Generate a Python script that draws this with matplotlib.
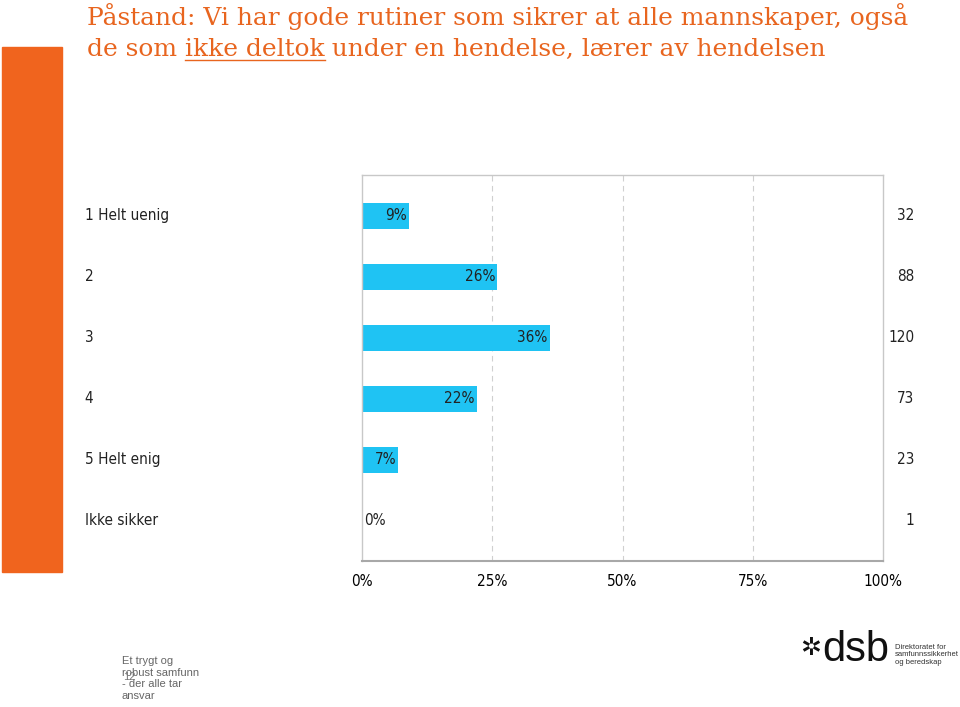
import numpy as np
import matplotlib
matplotlib.use("Agg")
import matplotlib.pyplot as plt
from matplotlib.patches import Rectangle

# ---------- data ----------
categories = ["1 Helt uenig", "2", "3", "4", "5 Helt enig", "Ikke sikker"]
percents = [9, 26, 36, 22, 7, 0]
counts = [32, 88, 120, 73, 23, 1]
xticks = [0, 25, 50, 75, 100]
xtick_labels = ["0%", "25%", "50%", "75%", "100%"]

orange = "#F0641E"
title_color = "#E8651F"
bar_color = "#1FC3F3"
lab = dict(family="DejaVu Sans", stretch="condensed", fontsize=11)

fig = plt.figure(figsize=(9.6, 7.07), dpi=100)
W, H = 960, 707

def fx(px):
    return px / W

def fy(py):
    return 1 - py / H

# orange side block
fig.patches.append(Rectangle((fx(2), fy(572)), fx(60), (572 - 47) / H,
                             transform=fig.transFigure, color=orange, zorder=0))

# title (with underlined "ikke deltok")
tfont = dict(color=title_color, fontsize=17.9, family="DejaVu Serif", va="center")
fig.text(fx(87), fy(17), "Påstand: Vi har gode rutiner som sikrer at alle mannskaper, også", **tfont)
t1 = fig.text(fx(87), fy(49), "de som ", **tfont)
fig.canvas.draw()
r = fig.canvas.get_renderer()
bb = t1.get_window_extent(r)
t2 = fig.text(bb.x1 / W, fy(49), "ikke deltok", **tfont)
bb2 = t2.get_window_extent(r)
fig.add_artist(plt.Line2D([bb2.x0 / W, bb2.x1 / W], [fy(60), fy(60)],
                          transform=fig.transFigure, color=title_color, lw=1))
fig.text(bb2.x1 / W, fy(49), " under en hendelse, lærer av hendelsen", **tfont)

# chart
ax = fig.add_axes([fx(362), fy(561), fx(883 - 362), (561 - 175) / H])
y = np.arange(len(categories))
ax.barh(y, percents, height=0.43, color=bar_color, zorder=2)
ax.set_xlim(0, 100)
ax.set_ylim(5.656, -0.672)
ax.set_yticks([])
ax.set_xticks(xticks)
ax.set_xticklabels(xtick_labels, **lab)
ax.tick_params(axis="x", length=0, pad=9)
for v in xticks[1:-1]:
    ax.axvline(v, color="#D0D0D0", lw=0.8, ls=(0, (5, 4)), zorder=1)
for s in ["top", "right", "left"]:
    ax.spines[s].set_color("#C8C8C8")
    ax.spines[s].set_linewidth(1)
ax.spines["bottom"].set_color("#A8A8A8")
ax.spines["bottom"].set_linewidth(1.5)

for i, (p, c, cat) in enumerate(zip(percents, counts, categories)):
    if p > 0:
        ax.text(p - 0.4, i, f"{p}%", ha="right", va="center", color="#222222", zorder=3, **lab)
    else:
        ax.text(0.4, i, f"{p}%", ha="left", va="center", color="#222222", zorder=3, **lab)
    ax.text(-53.2, i, cat, ha="left", va="center", color="#222222", clip_on=False, **lab)
    ax.text(106, i, str(c), ha="right", va="center", color="#222222", clip_on=False, **lab)

# footer
fig.text(fx(122), fy(656), "Et trygt og\nrobust samfunn\n- der alle tar\nansvar",
         color="#666666", fontsize=8, family="Liberation Sans", va="top",
         linespacing=1.2, ha="left")
fig.text(fx(123), fy(677), "12", color="#777777", fontsize=8, family="Liberation Sans",
         va="center", ha="left")

# dsb logo (text)
fig.text(fx(800), fy(648), "✲", color="#111111", fontsize=18, va="center",
         family="DejaVu Sans")
fig.text(fx(822), fy(650), "dsb", color="#111111", fontsize=30, va="center",
         family="Liberation Sans")
fig.text(fx(895), fy(655), "Direktoratet for\nsamfunnssikkerhet\nog beredskap",
         color="#333333", fontsize=5.5, va="center", family="Liberation Sans",
         linespacing=1.15)

fig.savefig("out.png", dpi=100)
